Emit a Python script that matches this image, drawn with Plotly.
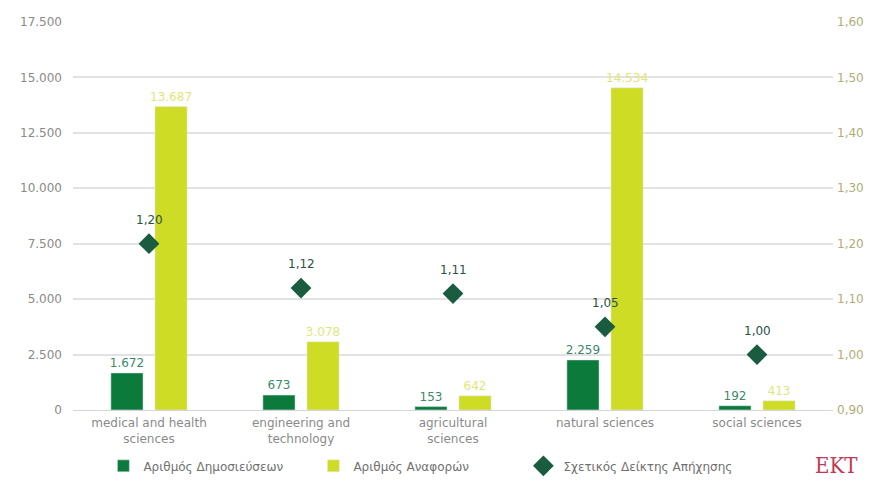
import plotly.graph_objects as go

categories = ["medical and health<br>sciences", "engineering and<br>technology",
              "agricultural<br>sciences", "natural sciences", "social sciences"]
publications = [1672, 673, 153, 2259, 192]
citations = [13687, 3078, 642, 14534, 413]
impact = [1.20, 1.12, 1.11, 1.05, 1.00]

left_ticks = [0, 2500, 5000, 7500, 10000, 12500, 15000, 17500]
right_ticks = [0.90, 1.00, 1.10, 1.20, 1.30, 1.40, 1.50, 1.60]

DARK = "#0c7a3b"
LIME = "#cfdc26"
DIAM = "#1a5c40"
FONT = "DejaVu Sans"

fig = go.Figure()
fig.add_trace(go.Bar(
    x=categories, y=publications, name="Αριθμός Δημοσιεύσεων",
    marker=dict(color=DARK), texttemplate="%{y:,}", textposition="outside",
    constraintext="none",
    textfont=dict(color="#3a8a6c", size=12, family=FONT), cliponaxis=False,
))
fig.add_trace(go.Bar(
    x=categories, y=citations, name="Αριθμός Αναφορών",
    marker=dict(color=LIME), texttemplate="%{y:,}", textposition="outside",
    constraintext="none",
    textfont=dict(color="#dfe77a", size=12, family=FONT), cliponaxis=False,
))
fig.add_trace(go.Scatter(
    x=categories, y=impact, name="Σχετικός Δείκτης Απήχησης", yaxis="y2",
    mode="markers", marker=dict(symbol="diamond", size=16, color=DIAM),
    cliponaxis=False,
))
for c, v in zip(categories, impact):
    fig.add_annotation(x=c, y=v, xref="x", yref="y2", text=f"{v:.2f}".replace(".", ","),
                       showarrow=False, yshift=24,
                       font=dict(color="#2a5246", size=12, family=FONT))

fig.update_layout(
    width=867, height=475,
    margin=dict(l=65, r=42, t=14, b=73, autoexpand=False),
    paper_bgcolor="white", plot_bgcolor="white",
    separators=",.",
    font=dict(family=FONT, size=12, color="#888888"),
    barmode="group", bargap=0.42, bargroupgap=0.27,
    xaxis=dict(showgrid=False, showline=True, linecolor="#d4d4de", linewidth=1,
               tickfont=dict(size=12, color="#8a8a8a"), ticks="", automargin=False,
               ticklabelstandoff=2),
    yaxis=dict(range=[0, 17500], tickvals=left_ticks, tickformat=",",
               showgrid=True, gridcolor="#e2e2e2", gridwidth=2, zeroline=False,
               tickfont=dict(size=12, color="#8a8a8a"), ticklabelstandoff=10,
               automargin=False),
    yaxis2=dict(range=[0.90, 1.60], tickvals=right_ticks, tickformat=".2f",
                overlaying="y", side="right", showgrid=False, zeroline=False,
                tickfont=dict(size=12, color="#b0ad78"), ticklabelstandoff=3,
                automargin=False),
    legend=dict(orientation="h", x=0.04, xanchor="left", y=-0.144, yanchor="middle",
                font=dict(size=12, color="#707070"), traceorder="normal",
                entrywidth=165),
    showlegend=True,
)
fig.add_annotation(text="EKT", xref="paper", yref="paper", x=1.004, y=-0.142,
                   xanchor="center", yanchor="middle", showarrow=False,
                   font=dict(family="DejaVu Serif Condensed, DejaVu Serif", size=22,
                             color="#c23a55"))

fig.write_html("out.html")
